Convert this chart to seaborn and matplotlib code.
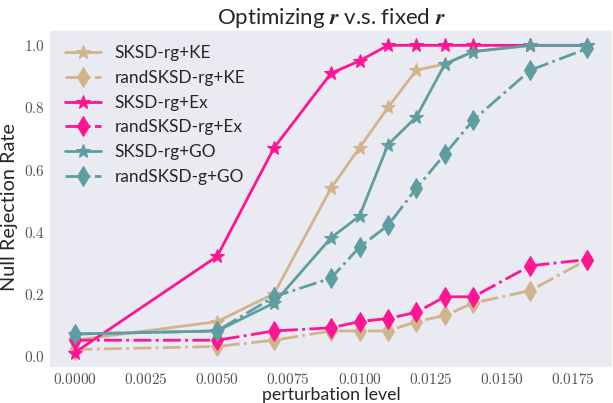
import matplotlib
matplotlib.use("Agg")
import matplotlib.pyplot as plt
import seaborn as sns
import pandas as pd

x = [0.0, 0.005, 0.007, 0.009, 0.010, 0.011, 0.012, 0.013, 0.014, 0.016, 0.018]
sksd_ke = [0.05, 0.11, 0.20, 0.54, 0.67, 0.80, 0.92, 0.94, 0.98, 1.00, 1.00]
rand_ke = [0.02, 0.03, 0.05, 0.08, 0.08, 0.08, 0.11, 0.13, 0.17, 0.21, 0.31]
sksd_ex = [0.01, 0.32, 0.67, 0.91, 0.95, 1.00, 1.00, 1.00, 1.00, 1.00, 1.00]
rand_ex = [0.05, 0.05, 0.08, 0.09, 0.11, 0.12, 0.14, 0.19, 0.19, 0.29, 0.31]
sksd_go = [0.07, 0.08, 0.17, 0.38, 0.45, 0.68, 0.77, 0.94, 0.98, 1.00, 1.00]
rand_go = [0.07, 0.08, 0.19, 0.25, 0.35, 0.42, 0.54, 0.65, 0.76, 0.92, 0.99]

names = ["SKSD-rg+KE", "randSKSD-rg+KE", "SKSD-rg+Ex", "randSKSD-rg+Ex", "SKSD-rg+GO", "randSKSD-g+GO"]
series = [sksd_ke, rand_ke, sksd_ex, rand_ex, sksd_go, rand_go]
colors = ["#D2B48C", "#D2B48C", "#FF1493", "#FF1493", "#5F9EA0", "#5F9EA0"]
markers = ["*", "d", "*", "d", "*", "d"]
styles = ["-", "-.", "-", "-.", "-", "-."]

sns.set_theme(style="dark")
plt.rcParams["font.family"] = ["Lato", "DejaVu Sans"]
plt.rcParams["mathtext.fontset"] = "cm"

fig, ax = plt.subplots(figsize=(6.13, 4.03), dpi=100)
for name, ys, c, m, ls in zip(names, series, colors, markers, styles):
    df = pd.DataFrame({"x": x, "y": ys})
    sns.lineplot(data=df, x="x", y="y", ax=ax, color=c, marker=m, linestyle=ls,
                 linewidth=2, markersize=10, markeredgecolor=c, label=name)

ax.set_title(r"Optimizing $\boldsymbol{r}$ v.s. fixed $\boldsymbol{r}$", fontsize=16, pad=4)
ax.set_xlabel("perturbation level", fontsize=12.8, labelpad=0)
ax.set_ylabel("Null Rejection Rate", fontsize=14.3, labelpad=4)
ax.yaxis.label.set_y(0.475)
xt = [0.0, 0.0025, 0.005, 0.0075, 0.01, 0.0125, 0.015, 0.0175]
ax.set_xticks(xt)
ax.set_xticklabels([f"${v:.4f}$" for v in xt], fontsize=11)
yt = [0.0, 0.2, 0.4, 0.6, 0.8, 1.0]
ax.set_yticks(yt)
ax.set_yticklabels([f"${v:.1f}$" for v in yt], fontsize=11)
ax.tick_params(axis="both", colors="#555555", length=0, pad=3)
leg = ax.legend(loc="upper left", frameon=False, fontsize=12.4, handlelength=2.1)
fig.subplots_adjust(left=0.08, right=1.0, top=0.9256, bottom=0.0868)
fig.savefig("out.png", dpi=100)
